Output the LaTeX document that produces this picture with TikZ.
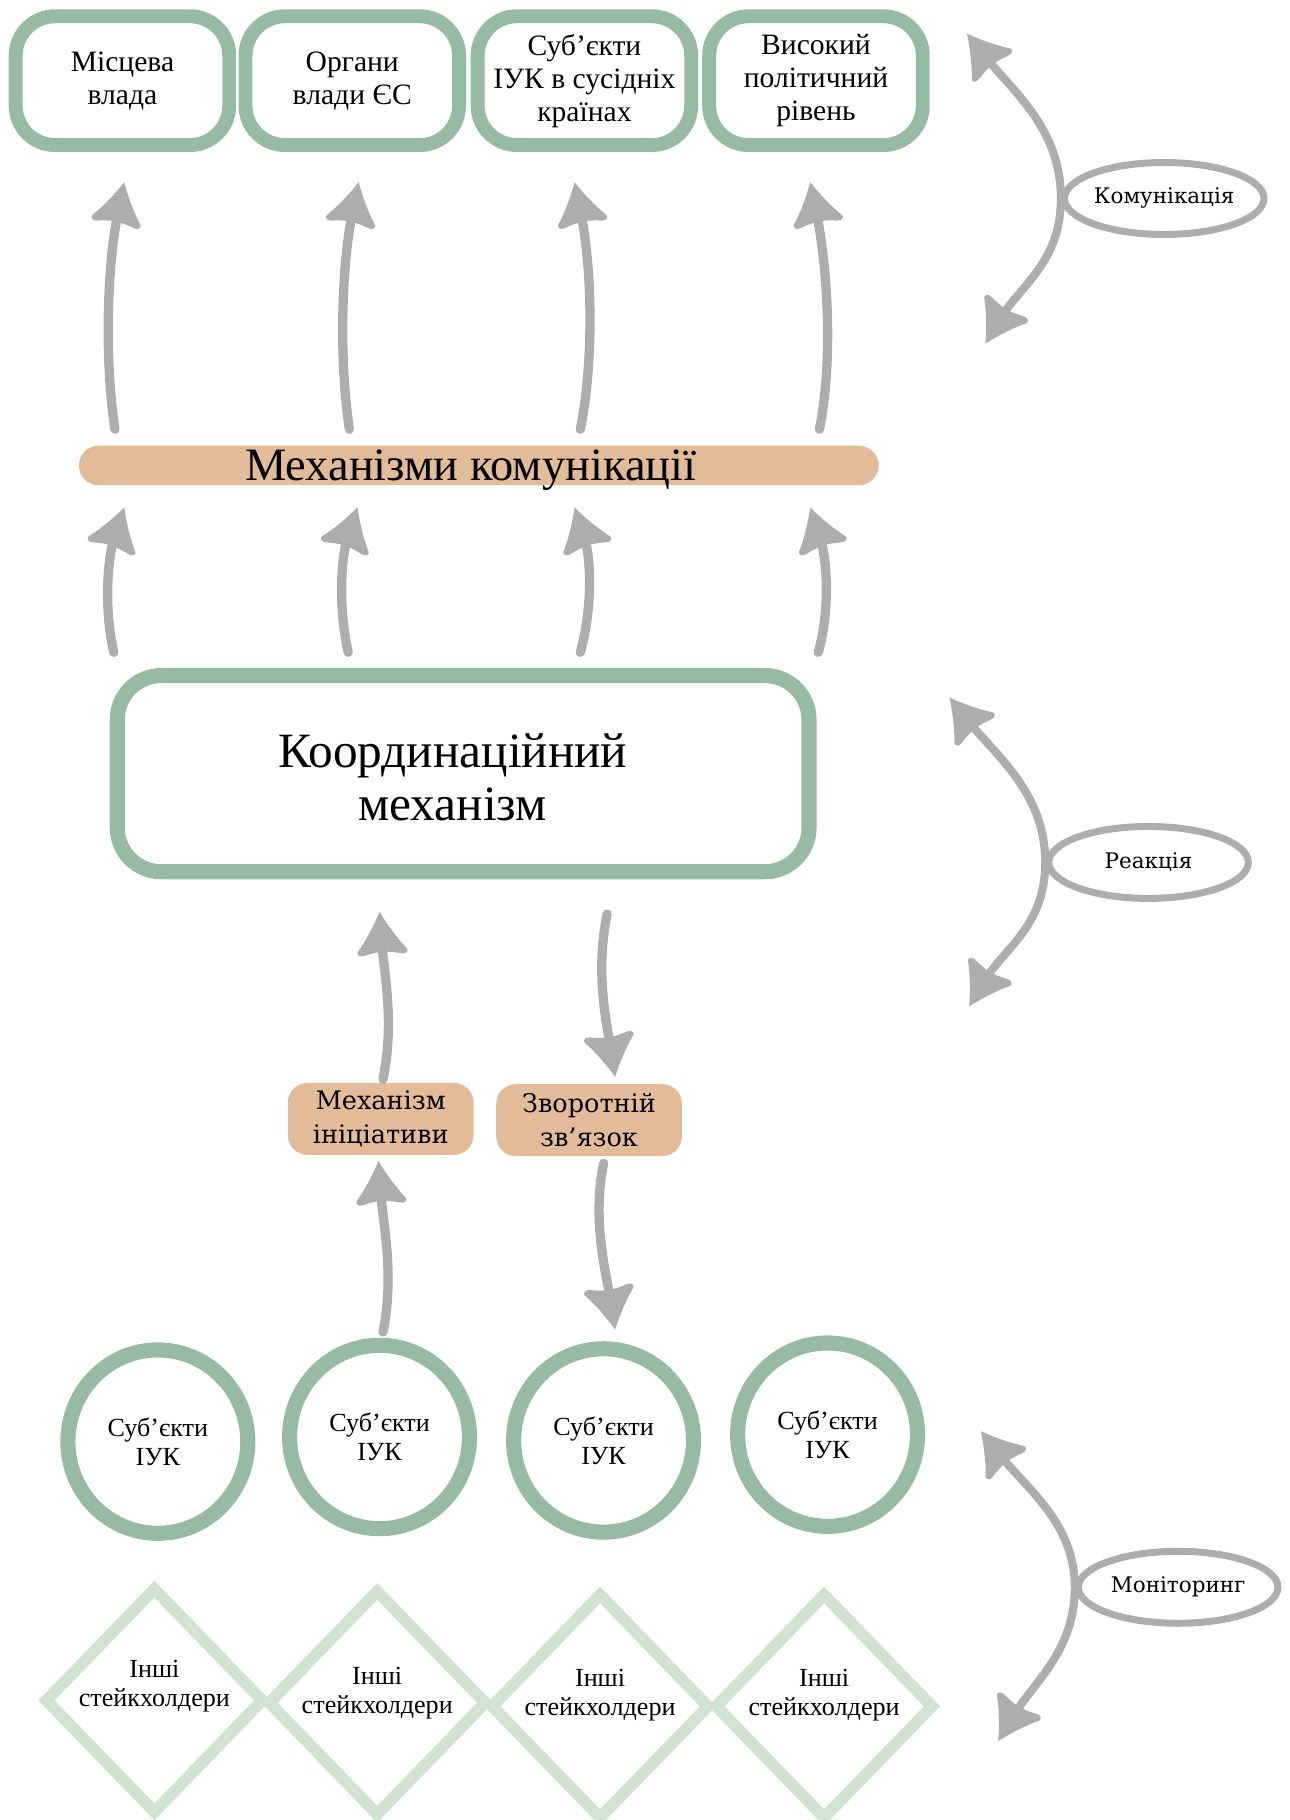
\documentclass[tikz,border=0pt]{standalone}
\usepackage{fontspec}
\setmainfont{Liberation Serif}
\newfontfamily\dvserif{DejaVu Serif}
\usetikzlibrary{arrows.meta,shapes.geometric,calc}
\definecolor{grn}{HTML}{97BBA2}
\definecolor{lgrn}{HTML}{CFE3D0}
\definecolor{org}{HTML}{E2BC98}
\definecolor{gry}{HTML}{ADADAD}
\pgfdeclarearrow{
  name = Flare,
  setup code = {
    \pgfarrowssettipend{0pt}
    \pgfarrowssetlineend{-26pt}
    \pgfarrowssetbackend{-37pt}
    \pgfarrowssetvisualbackend{-37pt}
    \pgfarrowsupperhullpoint{0pt}{0pt}
    \pgfarrowsupperhullpoint{-37pt}{22pt}
  },
  drawing code = {
    \pgfpathmoveto{\pgfpoint{0pt}{0pt}}
    \pgfpathcurveto{\pgfpoint{-12pt}{6pt}}{\pgfpoint{-24pt}{13.5pt}}{\pgfpoint{-33pt}{21pt}}
    \pgfpathcurveto{\pgfpoint{-35pt}{23pt}}{\pgfpoint{-38.5pt}{20pt}}{\pgfpoint{-37pt}{16pt}}
    \pgfpathcurveto{\pgfpoint{-35.5pt}{10pt}}{\pgfpoint{-34.5pt}{4pt}}{\pgfpoint{-34.5pt}{0pt}}
    \pgfpathcurveto{\pgfpoint{-34.5pt}{-4pt}}{\pgfpoint{-35.5pt}{-10pt}}{\pgfpoint{-37pt}{-16pt}}
    \pgfpathcurveto{\pgfpoint{-38.5pt}{-20pt}}{\pgfpoint{-35pt}{-23pt}}{\pgfpoint{-33pt}{-21pt}}
    \pgfpathcurveto{\pgfpoint{-24pt}{-13.5pt}}{\pgfpoint{-12pt}{-6pt}}{\pgfpoint{0pt}{0pt}}
    \pgfpathclose
    \pgfusepathqfill
  }
}
\tikzset{
  arr/.style={color=gry, line width=8pt, line cap=round, -{Flare}},
  dbl/.style={color=gry, line width=7pt, {Flare}-{Flare}},
  topbox/.style={draw=grn, line width=12pt, rounded corners=34pt, fill=white, minimum width=184pt, minimum height=111pt, inner sep=0pt, align=center, font=\fontsize{25.5}{28.5}\selectfont},
  barbox/.style={fill=org, rounded corners=17pt, minimum width=689pt, minimum height=34pt, inner sep=0pt},
  bartxt/.style={inner sep=0pt, text height=30pt, text depth=4pt, font=\fontsize{40}{42}\selectfont},
  cbox/.style={draw=grn, line width=13pt, rounded corners=38pt, fill=white, minimum width=596pt, minimum height=169pt, inner sep=0pt},
  cbtxt/.style={align=center, inner sep=0pt, font=\fontsize{42.5}{46}\selectfont},
  sbox/.style={fill=org, rounded corners=17pt, minimum width=160pt, minimum height=62pt, inner sep=0pt, align=center, font=\dvserif\fontsize{22}{29}\selectfont},
  circ/.style={ellipse, draw=grn, line width=13pt, fill=white, minimum width=155pt, minimum height=158pt, inner sep=0pt, align=center, font=\fontsize{22.5}{25}\selectfont},
  diam/.style={diamond, draw=lgrn, line width=10pt, minimum width=190pt, minimum height=196pt, inner sep=0pt},
  dtxt/.style={align=center, inner sep=0pt, font=\fontsize{22.5}{25}\selectfont},
  ell/.style={ellipse, draw=gry, line width=6pt, fill=white, minimum width=172pt, minimum height=62pt, inner sep=0pt, font=\dvserif\fontsize{18.5}{22}\selectfont}
}
\begin{document}
\begin{tikzpicture}[x=1pt,y=-1pt]
\fill[white] (0,0) rectangle (1111,1568);
\useasboundingbox (0,0) rectangle (1111,1568);

% top boxes
\node[topbox] (b1) at (105.5,69.5) {Місцева\\влада};
\node[topbox] (b2) at (303.5,69.5) {Органи\\влади ЄС};
\node[topbox] (b3) at (503.5,69.5) {Суб’єкти\\ІУК в сусідніх\\країнах};
\node[topbox] (b4) at (703,69.5) {Високий\\політичний\\рівень};

% bar
\node[barbox] (bar) at (412.5,401) {};
\node[bartxt] (bart) at ($(bar)+(-7,0)$) {Механізми комунікації};

% coordination box
\node[cbox] (cb) at (399,666.5) {};
\node[cbtxt] (cbt) at ($(cb)+(-9,3)$) {Координаційний\\механізм};

% small boxes
\node[sbox] (ini) at (328,964) {Механізм\\ініціативи};
\node[sbox] (zv) at (507.5,965) {Зворотній\\зв’язок};

% circles
\node[circ] (c1) at (136,1242) {Суб’єкти\\ІУК};
\node[circ] (c2) at (327,1238) {Суб’єкти\\ІУК};
\node[circ] (c3) at (520,1241) {Суб’єкти\\ІУК};
\node[circ] (c4) at (713,1236) {Суб’єкти\\ІУК};

% diamonds
\node[diam] (d1) at (133,1465) {};
\node[diam] (d2) at (325,1467) {};
\node[diam] (d3) at (517,1470) {};
\node[diam] (d4) at (710,1470) {};
\node[dtxt] (t1) at ($(d1)+(0,-12)$) {Інші\\стейкхолдери};
\node[dtxt] (t2) at ($(d2)+(0,-8)$) {Інші\\стейкхолдери};
\node[dtxt] (t3) at ($(d3)+(0,-10)$) {Інші\\стейкхолдери};
\node[dtxt] (t4) at ($(d4)+(0,-10)$) {Інші\\стейкхолдери};

% ellipses
\node[ell] (kom) at (1003,171) {Комунікація};
\node[ell] (rea) at (989.5,743) {Реакція};
\node[ell] (mon) at (1015,1367.5) {Моніторинг};

% arrows bar -> top boxes
\draw[arr] ($(bar.north -| b1.south)+(-6.5,-14)$) .. controls +(-9,-60) and +(-15,73) .. ($(b1.south)+(1.5,26)$);
\draw[arr] ($(bar.north -| b2.south)+(-2.5,-14)$) .. controls +(-9,-60) and +(-15,73) .. ($(b2.south)+(5.5,26)$);
\draw[arr] ($(bar.north -| b3.south)+(-3.5,-14)$) .. controls +(12,-60) and +(15,73) .. ($(b3.south)+(-8.5,26)$);
\draw[arr] ($(bar.north -| b4.south)+(3,-14)$) .. controls +(12,-60) and +(15,73) .. ($(b4.south)+(-5,26)$);

% arrows coord box -> bar
\draw[arr] ($(cb.north -| b1.south)+(-7.5,-13.5)$) .. controls +(-9,-40) and +(-14,42) .. ($(bar.south -| b1.south)+(1.5,19)$);
\draw[arr] ($(cb.north -| b2.south)+(-3.5,-13.5)$) .. controls +(-9,-40) and +(-14,42) .. ($(bar.south -| b2.south)+(4.5,19)$);
\draw[arr] ($(cb.north -| b3.south)+(-3.5,-13.5)$) .. controls +(11,-40) and +(14,42) .. ($(bar.south -| b3.south)+(-8.5,19)$);
\draw[arr] ($(cb.north -| b4.south)+(2,-13.5)$) .. controls +(11,-40) and +(14,42) .. ($(bar.south -| b4.south)+(-5,19)$);

% middle arrows
\draw[arr] ($(ini.north)+(2,-3)$) .. controls +(10,-50) and +(4,55) .. ($(ini.north |- cb.south)+(-1,28)$);
\draw[arr] ($(zv.north |- cb.south)+(15.5,30)$) .. controls +(-10,50) and +(-8,-50) .. ($(zv.north)+(22.5,-6)$);
\draw[arr] ($(c2.north)+(3,-5)$) .. controls +(10,-50) and +(4,55) .. ($(ini.south)+(-2,5)$);
\draw[arr] ($(zv.south)+(12.5,6)$) .. controls +(-10,50) and +(-8,-50) .. ($(c3.north)+(10,-10)$);

% right side double arrows
\coordinate (kt) at (833,29);
\coordinate (kb) at (849,296);
\coordinate (rt) at (818,601);
\coordinate (rb) at (835,867);
\coordinate (mt) at (845,1233);
\coordinate (mb) at (860,1500);
\draw[dbl] (kt) .. controls +(40,50) and +(0,-60) .. (kom.west) .. controls +(0,55) and +(30,-50) .. (kb);
\draw[dbl] (rt) .. controls +(40,50) and +(0,-60) .. (rea.west) .. controls +(0,55) and +(30,-50) .. (rb);
\draw[dbl] (mt) .. controls +(40,50) and +(0,-55) .. (mon.west) .. controls +(0,55) and +(30,-50) .. (mb);
\end{tikzpicture}
\end{document}
